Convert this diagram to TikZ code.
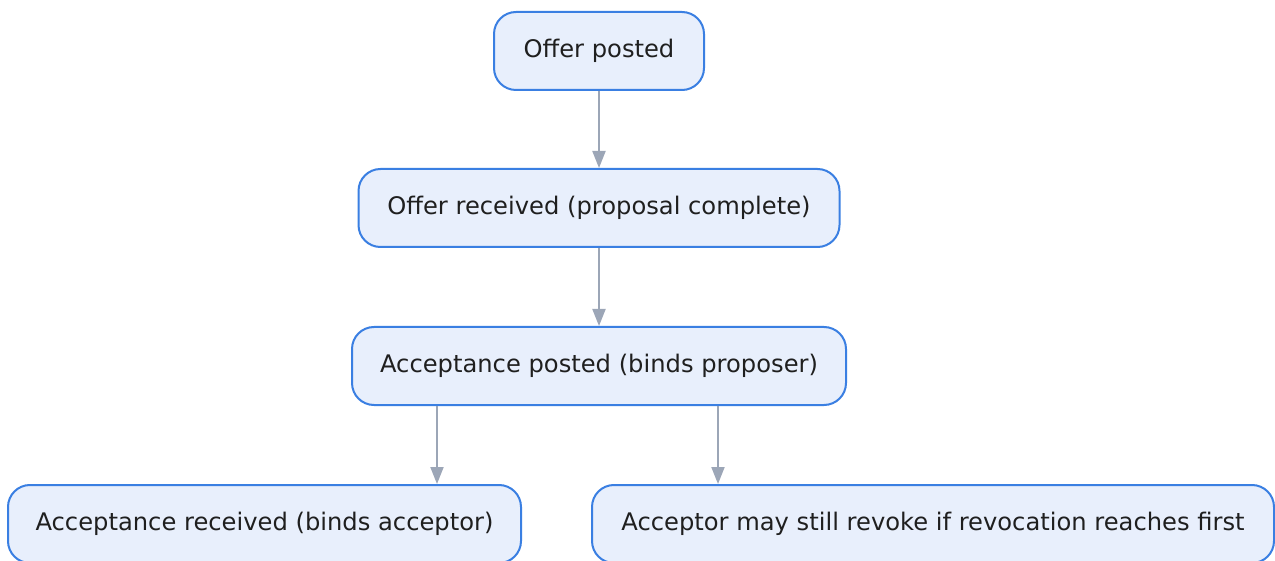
\documentclass[tikz,border=0pt]{standalone}
\usepackage{fontspec}
\setmainfont{DejaVu Sans}
\usetikzlibrary{arrows.meta}
\definecolor{boxline}{HTML}{3A7FE2}
\definecolor{boxfill}{HTML}{E8EFFC}
\definecolor{edgegray}{HTML}{9CA6B7}
\definecolor{textdark}{HTML}{1F1F1F}
\begin{document}
\begin{tikzpicture}[x=1pt,y=-1pt,
  stage/.style={draw=boxline, fill=boxfill, line width=2pt, rounded corners=22pt,
    minimum height=78pt, inner sep=0pt, text=textdark,
    font=\fontsize{24.2}{29}\selectfont},
  flow/.style={draw=edgegray, line width=2pt,
    -{Triangle[width=13pt,length=17pt]}}]
  \useasboundingbox (0,0) rectangle (1275,561);
  \node[stage, minimum width=210pt] (op) at (599,51) {Offer posted};
  \node[stage, minimum width=481pt] (or) at (599,208) {Offer received (proposal complete)};
  \node[stage, minimum width=494pt] (ap) at (599,366) {Acceptance posted (binds proposer)};
  \node[stage, minimum width=513pt] (ar) at (264.5,524) {Acceptance received (binds acceptor)};
  \node[stage, minimum width=682pt] (rv) at (933,524) {Acceptor may still revoke if revocation reaches first};
  \coordinate (lx) at (437,0);
  \coordinate (rx) at (718,0);
  \draw[flow] (op) -- (or);
  \draw[flow] (or) -- (ap);
  \draw[flow] (ap.south -| lx) -- (ar.north -| lx);
  \draw[flow] (ap.south -| rx) -- (rv.north -| rx);
\end{tikzpicture}
\end{document}
